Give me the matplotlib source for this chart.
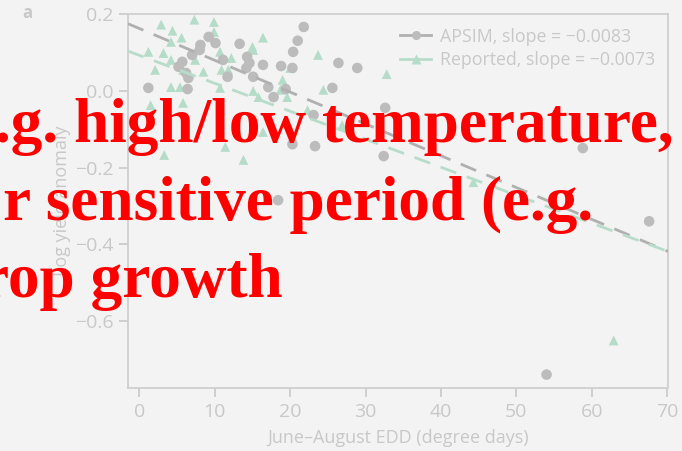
import matplotlib
matplotlib.use("Agg")
import matplotlib.pyplot as plt
from matplotlib.lines import Line2D
import numpy as np

# June-August extreme degree days vs. log yield anomaly
apsim_edd = [1.2, 6.4, 5.2, 5.7, 6.5, 6.2, 7.0, 8.1, 9.2, 8.0, 10.1, 11.1, 11.7,
             13.3, 14.3, 14.2, 14.6, 16.4, 15.1, 17.1, 17.8, 18.8, 19.4, 20.3,
             20.4, 21.0, 21.8, 25.6, 26.4, 28.9, 23.1, 20.3, 23.3, 18.4, 32.6,
             32.4, 58.8, 67.6, 54.0]
apsim_anom = [0.008, 0.005, 0.063, 0.076, 0.034, 0.047, 0.094, 0.120, 0.141, 0.107,
              0.125, 0.081, 0.037, 0.123, 0.089, 0.060, 0.073, 0.068, 0.037, 0.010,
              -0.016, 0.065, 0.005, 0.060, 0.102, 0.131, 0.167, 0.008, 0.073, 0.060,
              -0.063, -0.139, -0.144, -0.285, -0.044, -0.170, -0.149, -0.340, -0.740]

reported_edd = [2.9, 4.4, 4.2, 5.6, 7.3, 9.9, 9.9, 1.2, 3.2, 2.1, 4.2, 4.2, 5.4, 5.8,
                7.4, 8.5, 10.7, 12.2, 10.9, 11.8, 10.7, 15.1, 16.4, 15.0, 20.0, 19.0,
                23.7, 15.1, 15.8, 18.7, 19.6, 24.4, 1.5, 5.8, 3.3, 11.4, 13.8, 16.4,
                22.3, 26.9, 32.8, 44.3, 62.9]
reported_anom = [0.173, 0.157, 0.128, 0.139, 0.186, 0.180, 0.154, 0.102, 0.099, 0.055,
                 0.081, 0.010, 0.010, 0.055, 0.081, 0.050, 0.102, 0.086, 0.055, 0.055,
                 0.008, 0.107, 0.139, 0.115, 0.060, 0.029, 0.094, 0.000, -0.016, 0.003,
                 -0.016, 0.003, -0.037, -0.031, -0.167, -0.146, -0.180, -0.107, -0.050,
                 -0.089, 0.044, -0.238, -0.651]

# fitted lines: slope per degree day, intercept
apsim_slope, apsim_icpt = -0.0083, 0.163
reported_slope, reported_icpt = -0.0073, 0.093

x_ticks = [0, 10, 20, 30, 40, 50, 60, 70]
y_ticks = [0.2, 0.0, -0.2, -0.4, -0.6]

W, H = 682, 451
BG = "#f3f3f3"
GREY_PT = "#bcbcbc"
GREEN_PT = "#b5dcc8"
GREY_LN = "#b0b0b0"
GREEN_LN = "#b8dcca"
TXT = "#c8c8c8"

plt.rcParams["font.family"] = ["Open Sans", "DejaVu Sans"]

fig = plt.figure(figsize=(W / 100, H / 100), dpi=100, facecolor=BG)
ax = fig.add_axes([128 / W, (H - 388) / H, 540 / W, (388 - 14.3) / H])
ax.set_facecolor(BG)

xs = np.array([-1.5, 70.1])
ax.plot(xs, apsim_icpt + apsim_slope * xs, color=GREY_LN, lw=2.0,
        dashes=(6, 4), zorder=3)
ax.plot(xs, reported_icpt + reported_slope * xs, color=GREEN_LN, lw=2.0,
        dashes=(6, 4), zorder=3)

ax.scatter(reported_edd, reported_anom, marker="^", s=50, color=GREEN_PT,
           edgecolors="none", zorder=2)
ax.scatter(apsim_edd, apsim_anom, marker="o", s=58, color=GREY_PT,
           edgecolors="none", zorder=2)

ax.set_xlim(-1.5, 70.1)
ax.set_ylim(-0.775, 0.2)
ax.set_xticks(x_ticks)
ax.set_yticks(y_ticks)
ax.set_yticklabels([f"{v:.1f}".replace("-", "\u2212") for v in y_ticks])
ax.tick_params(colors=TXT, labelcolor=TXT, labelsize=14, length=6.5, width=1.2,
               direction="out")
ax.tick_params(axis="y", pad=4)
ax.tick_params(axis="x", pad=4)
for s in ax.spines.values():
    s.set_color("#cfcfcf")
    s.set_linewidth(1.3)

ax.set_xlabel("June\u2013August EDD (degree days)", color=TXT, fontsize=13,
              labelpad=6)
ax.set_ylabel("Log yield anomaly", color=TXT, fontsize=13)
ax.yaxis.set_label_coords(-0.105, 0.5)

handles = [
    Line2D([], [], color=GREY_LN, lw=2, marker="o", ms=6.5, mfc=GREY_PT, mec="none"),
    Line2D([], [], color=GREEN_LN, lw=2, marker="^", ms=6.5, mfc=GREEN_PT, mec="none"),
]
labels = [f"APSIM, slope = \u2212{abs(apsim_slope):.4f}",
          f"Reported, slope = \u2212{abs(reported_slope):.4f}"]
leg = ax.legend(handles, labels, loc="upper right", bbox_to_anchor=(1.0, 1.0),
                frameon=False, fontsize=12.8, handlelength=1.7, handletextpad=0.5,
                labelspacing=0.3, borderaxespad=0.35)
for t in leg.get_texts():
    t.set_color(TXT)

fig.text(27 / W, 1 - 13 / H, "a", color=TXT, fontsize=12, fontweight="bold",
         ha="center", va="center")

# overlaid caption
red = dict(color="#ff0000", fontsize=45.5, fontweight="bold",
           family="Liberation Serif", va="baseline")
fig.text(228 / W, 1 + 18 / H, "p", ha="right", **red)
fig.text(674 / W, 1 - 142 / H, "e.g. high/low temperature,", ha="right", **red)
fig.text(593 / W, 1 - 220 / H, "r sensitive period (e.g.", ha="right", **red)
fig.text(283 / W, 1 - 297 / H, "rop growth", ha="right", **red)

fig.savefig("out.png", dpi=100, facecolor=BG)
